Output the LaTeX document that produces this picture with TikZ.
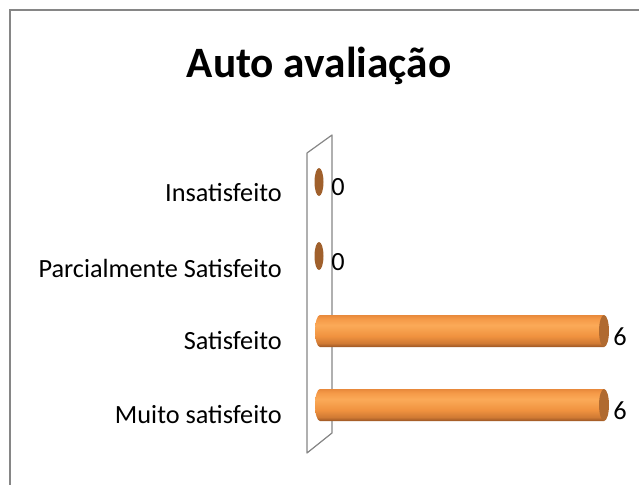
\documentclass[tikz,border=0pt]{standalone}
\usepackage{fontspec}
\setmainfont{Carlito}
\usepackage{tikz}
\definecolor{frame}{HTML}{868686}
\definecolor{capbrown}{HTML}{B06A30}
\definecolor{zerobrown}{HTML}{A0602C}
\definecolor{sa}{HTML}{9A5524}
\definecolor{sb}{HTML}{D07A34}
\definecolor{sc}{HTML}{F0923F}
\definecolor{sd}{HTML}{FBAA58}
\definecolor{se}{HTML}{F59A48}
\definecolor{sf}{HTML}{E8893B}
\pgfdeclareverticalshading{cyl}{100bp}{color(0bp)=(sa);color(25bp)=(sa);color(31bp)=(sb);
  color(42bp)=(sc);color(59bp)=(sd);color(69bp)=(se);color(75bp)=(sf);color(100bp)=(sf)}

\begin{document}
\begin{tikzpicture}[x=0.75pt,y=-0.75pt]
  \tikzstyle{cat}=[anchor=east,inner sep=0pt,font=\fontsize{19.7}{22}\selectfont]
  \tikzstyle{val}=[anchor=west,inner sep=0pt,font=\fontsize{19.7}{22}\selectfont]
  \tikzstyle{wall}=[draw=frame,line width=0.9pt,line join=round]
  \tikzstyle{barend}=[fill=capbrown]
  \useasboundingbox (0,0) rectangle (639,485);
  \draw[frame,line width=1.3pt] (10,500) -- (10,10) -- (650,10);
  \node[font=\bfseries\fontsize{32.5}{38}\selectfont] (title) at (319,66) {Auto avaliação};
  % back wall
  \draw[wall] (307,153) -- (332,135) -- (332,433) -- (307,453) -- cycle;
  % bars
  \foreach \y in {331,405}{
    \shade[shading=cyl] (320,\y+16) arc[start angle=90,end angle=270,x radius=5,y radius=16]
      -- (604,\y-16) -- (604,\y+16) -- cycle;
    \fill[barend] (604,\y) ellipse[x radius=5,y radius=16];
  }
  \foreach \y in {182,256}
    \fill[zerobrown] (319,\y) ellipse[x radius=4.5,y radius=14];
  % category labels
  \node[cat] (c1) at (282,193) {Insatisfeito};
  \node[cat] (c2) at (282,268) {Parcialmente Satisfeito};
  \node[cat] (c3) at (282,341) {Satisfeito};
  \node[cat] (c4) at (282,415) {Muito satisfeito};
  % values
  \node[val] (v1) at (331,187) {0};
  \node[val] (v2) at (331,262) {0};
  \node[val] (v3) at (613,337) {6};
  \node[val] (v4) at (613,411) {6};
\end{tikzpicture}
\end{document}
